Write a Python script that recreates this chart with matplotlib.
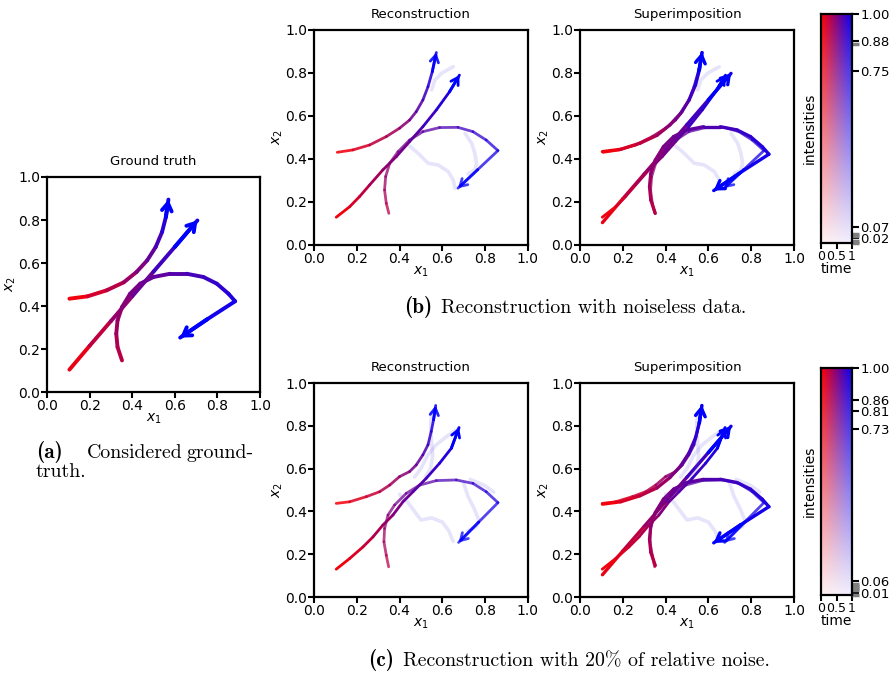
import numpy as np
import matplotlib
matplotlib.use("Agg")
import matplotlib.pyplot as plt
from matplotlib.collections import LineCollection
from matplotlib.ticker import FixedLocator


### Data ###
## ground truth curves (x1, x2) ##
gt_a_x = [0.105, 0.19, 0.28, 0.36, 0.42, 0.47, 0.51, 0.54, 0.558, 0.57]
gt_a_y = [0.434, 0.445, 0.473, 0.51, 0.558, 0.612, 0.674, 0.744, 0.814, 0.895]
gt_b_x = [0.105, 0.20, 0.30, 0.40, 0.50, 0.60, 0.706]
gt_b_y = [0.104, 0.215, 0.33, 0.445, 0.56, 0.675, 0.798]
gt_c_x = [0.352, 0.331, 0.325, 0.331, 0.352, 0.39, 0.4375, 0.5, 0.578, 0.656,
          0.734, 0.797, 0.852, 0.883, 0.75, 0.625]
gt_c_y = [0.147, 0.209, 0.271, 0.333, 0.395, 0.457, 0.504, 0.535, 0.55, 0.55,
          0.535, 0.504, 0.457, 0.422, 0.337, 0.253]

## reconstruction, noiseless ##
rb_a_x = [0.109, 0.182, 0.26, 0.338, 0.40, 0.447, 0.478, 0.509, 0.533, 0.553, 0.572]
rb_a_y = [0.431, 0.442, 0.465, 0.504, 0.543, 0.581, 0.62, 0.674, 0.736, 0.806, 0.895]
rb_b_x = [0.104, 0.167, 0.213, 0.26, 0.322, 0.385, 0.447, 0.509, 0.572, 0.634, 0.68]
rb_b_y = [0.129, 0.178, 0.225, 0.279, 0.349, 0.411, 0.481, 0.55, 0.628, 0.713, 0.79]
rb_c_x = [0.35, 0.338, 0.33, 0.335, 0.354, 0.393, 0.447, 0.509, 0.587, 0.673,
          0.743, 0.805, 0.86, 0.765, 0.673]
rb_c_y = [0.147, 0.194, 0.256, 0.318, 0.38, 0.434, 0.488, 0.527, 0.546, 0.547,
          0.527, 0.488, 0.439, 0.35, 0.264]
rb_faint = [
    ([0.651, 0.597, 0.565, 0.55], [0.829, 0.799, 0.767, 0.721]),
    ([0.441, 0.487, 0.534, 0.581, 0.628, 0.651, 0.659], [0.465, 0.426, 0.38, 0.372, 0.341, 0.302, 0.264]),
    ([0.706, 0.737, 0.752, 0.76, 0.752, 0.72], [0.519, 0.473, 0.426, 0.38, 0.349, 0.33]),
]
rb_int = [0.88, 1.0, 0.75]

## reconstruction, 20% noise ##
rc_a_x = [0.104, 0.167, 0.245, 0.307, 0.354, 0.40, 0.447, 0.478, 0.509, 0.533, 0.548, 0.559, 0.569]
rc_a_y = [0.4375, 0.445, 0.469, 0.492, 0.523, 0.5625, 0.586, 0.617, 0.664, 0.711, 0.773, 0.828, 0.895]
rc_b_x = [0.104, 0.167, 0.229, 0.276, 0.322, 0.369, 0.416, 0.463, 0.525, 0.587, 0.642, 0.678]
rc_b_y = [0.13, 0.18, 0.234, 0.281, 0.336, 0.383, 0.445, 0.492, 0.555, 0.625, 0.695, 0.792]
rc_c_x = [0.349, 0.338, 0.327, 0.33, 0.346, 0.377, 0.431, 0.494, 0.572, 0.665,
          0.743, 0.805, 0.86, 0.77, 0.676]
rc_c_y = [0.141, 0.195, 0.258, 0.32, 0.383, 0.43, 0.484, 0.523, 0.544, 0.547,
          0.531, 0.492, 0.441, 0.35, 0.255]
rc_faint = [
    ([0.68, 0.62, 0.57, 0.53, 0.50, 0.47], [0.79, 0.75, 0.71, 0.66, 0.60, 0.56]),
    ([0.55, 0.545, 0.55, 0.555, 0.545, 0.52], [0.86, 0.80, 0.72, 0.66, 0.60, 0.56]),
    ([0.40, 0.44, 0.47, 0.50, 0.55, 0.60, 0.63, 0.65], [0.48, 0.44, 0.40, 0.36, 0.37, 0.35, 0.31, 0.26]),
    ([0.70, 0.72, 0.75, 0.77, 0.76, 0.72], [0.53, 0.47, 0.41, 0.36, 0.33, 0.31]),
    ([0.73, 0.80, 0.84], [0.55, 0.52, 0.49]),
]
rc_int = [0.86, 1.0, 0.73]

## colorbar ticks ##
cb_b_ticks = [0.02, 0.07, 0.75, 0.88, 1.00]
cb_b_gray = [0.0, 0.01, 0.03, 0.04, 0.87]
cb_c_ticks = [0.01, 0.06, 0.73, 0.81, 0.86, 1.00]
cb_c_gray = [0.0, 0.02, 0.03, 0.04, 0.05]

RED = np.array([1.0, 0.0, 0.0])
BLUE = np.array([0.0, 0.0, 1.0])
CAP_SIZE = 14.3


### Functions ###
def timeColor(t, alpha=1.0):
    c = (1 - t) * RED + t * BLUE
    return (c[0], c[1], c[2], alpha)


def drawCurve(ax, xs, ys, t0=0.0, alpha=1.0, lw=2.2, arrow=True, head=(0.55, 0.35)):
    pts = np.column_stack([xs, ys])
    segs = np.stack([pts[:-1], pts[1:]], axis=1)
    n = len(segs)
    cols = [timeColor(t0 + (1 - t0) * (i + 0.5) / n, alpha) for i in range(n)]
    ax.add_collection(LineCollection(segs, colors=cols, linewidths=lw,
                                     capstyle="round", joinstyle="round"))
    if arrow:
        ax.annotate("", xy=(xs[-1], ys[-1]), xytext=(xs[-2], ys[-2]),
                    arrowprops=dict(arrowstyle="->,head_length=%g,head_width=%g" % head,
                                    color=timeColor(1.0, alpha), lw=lw,
                                    shrinkA=0, shrinkB=0))


def drawFaint(ax, curves):
    for fx, fy in curves:
        ax.plot(fx, fy, color=(0.4, 0.35, 0.9), alpha=0.16, lw=2.6,
                solid_capstyle="round")


def styleAxes(ax, title):
    ax.set_xlim(0, 1)
    ax.set_ylim(0, 1)
    ax.set_xticks([0, 0.2, 0.4, 0.6, 0.8, 1.0])
    ax.set_yticks([0, 0.2, 0.4, 0.6, 0.8, 1.0])
    ax.tick_params(direction="out", length=4, width=1.5, labelsize=10, pad=1)
    for s in ax.spines.values():
        s.set_linewidth(1.6)
    ax.set_title(title, fontsize=9.5, pad=8.5)
    ax.set_xlabel("$x_1$", fontsize=10, labelpad=-1)
    ax.set_ylabel("$x_2$", fontsize=10, labelpad=0)


def drawGT(ax, lw=2.8):
    drawCurve(ax, gt_a_x, gt_a_y, lw=lw)
    drawCurve(ax, gt_b_x, gt_b_y, lw=lw)
    drawCurve(ax, gt_c_x, gt_c_y, t0=0.25, lw=lw)


def drawRecon(ax, a, b, c, ints, faint):
    drawFaint(ax, faint)
    drawCurve(ax, a[0], a[1], alpha=ints[0], lw=2.0, head=(0.5, 0.3))
    drawCurve(ax, b[0], b[1], alpha=ints[1], lw=2.0, head=(0.5, 0.3))
    drawCurve(ax, c[0], c[1], t0=0.25, alpha=ints[2], lw=2.0, head=(0.5, 0.3))


def drawColorbar(ax, ticks, gray):
    tt, aa = np.meshgrid(np.linspace(0, 1, 64), np.linspace(0, 1, 128))
    img = np.ones(tt.shape + (3,))
    col = (1 - tt)[..., None] * RED + tt[..., None] * BLUE
    a = (0.06 + 0.94 * aa)[..., None]
    img = a * col + (1 - a) * img
    ax.imshow(img, origin="lower", extent=[0, 1, 0, 1], aspect="auto")
    ax.set_xticks([0, 0.5, 1])
    ax.set_xticklabels(["0", "0.5", "1"])
    ax.set_xlabel("time", fontsize=10, labelpad=-1)
    ax.yaxis.tick_right()
    ax.set_yticks(ticks)
    ax.set_yticklabels(["%.2f" % v for v in ticks])
    ax.yaxis.set_minor_locator(FixedLocator(gray))
    ax.set_ylabel("intensities", fontsize=10, labelpad=3)
    ax.yaxis.set_label_position("left")
    ax.tick_params(direction="out", length=4, width=1.5, labelsize=9, pad=1)
    ax.tick_params(axis="y", length=5, labelsize=9.5)
    ax.tick_params(axis="y", which="minor", length=5, width=2.5, color="gray")
    for s in ax.spines.values():
        s.set_linewidth(1.6)


def caption(fig, xbody, ybase, label, body):
    # bold label ends just before the body text, both on one baseline
    fig.text((xbody - 9) / 896, 1 - ybase / 673, label, fontfamily="cmb10",
             fontsize=CAP_SIZE + 1, ha="right", va="baseline")
    fig.text(xbody / 896, 1 - ybase / 673, body, fontfamily="cmr10",
             fontsize=CAP_SIZE, ha="left", va="baseline")


### Plotting ###
fig = plt.figure(figsize=(8.96, 6.73), dpi=100)

ax_gt = fig.add_axes([0.0525, 0.4175, 0.2377, 0.3195])
drawGT(ax_gt)
styleAxes(ax_gt, "Ground truth")

ax_rb = fig.add_axes([0.3504, 0.6360, 0.2388, 0.3195])
drawRecon(ax_rb, (rb_a_x, rb_a_y), (rb_b_x, rb_b_y), (rb_c_x, rb_c_y), rb_int, rb_faint)
styleAxes(ax_rb, "Reconstruction")

ax_sb = fig.add_axes([0.6473, 0.6360, 0.2388, 0.3195])
drawGT(ax_sb, lw=2.4)
drawRecon(ax_sb, (rb_a_x, rb_a_y), (rb_b_x, rb_b_y), (rb_c_x, rb_c_y), rb_int, rb_faint)
styleAxes(ax_sb, "Superimposition")

ax_cb = fig.add_axes([0.9163, 0.6389, 0.0346, 0.3403])
drawColorbar(ax_cb, cb_b_ticks, cb_b_gray)

ax_rc = fig.add_axes([0.3504, 0.1129, 0.2388, 0.318])
drawRecon(ax_rc, (rc_a_x, rc_a_y), (rc_b_x, rc_b_y), (rc_c_x, rc_c_y), rc_int, rc_faint)
styleAxes(ax_rc, "Reconstruction")

ax_sc = fig.add_axes([0.6473, 0.1129, 0.2388, 0.318])
drawGT(ax_sc, lw=2.4)
drawRecon(ax_sc, (rc_a_x, rc_a_y), (rc_b_x, rc_b_y), (rc_c_x, rc_c_y), rc_int, rc_faint)
styleAxes(ax_sc, "Superimposition")

ax_cc = fig.add_axes([0.9163, 0.1159, 0.0346, 0.3373])
drawColorbar(ax_cc, cb_c_ticks, cb_c_gray)

## captions ##
fig.text(36 / 896, 1 - 458 / 673, "(a)", fontfamily="cmb10", fontsize=CAP_SIZE + 1,
         ha="left", va="baseline")
fig.text(135 / 896, 1 - 458 / 673, "Considered", fontfamily="cmr10", fontsize=CAP_SIZE,
         ha="center", va="baseline")
fig.text(254 / 896, 1 - 458 / 673, "ground-", fontfamily="cmr10", fontsize=CAP_SIZE,
         ha="right", va="baseline")
fig.text(36 / 896, 1 - 477 / 673, "truth.", fontfamily="cmr10", fontsize=CAP_SIZE,
         ha="left", va="baseline")
caption(fig, 441, 313, "(b)", "Reconstruction with noiseless data.")
caption(fig, 403, 666, "(c)", "Reconstruction with 20% of relative noise.")

fig.savefig("out.png", dpi=100)
